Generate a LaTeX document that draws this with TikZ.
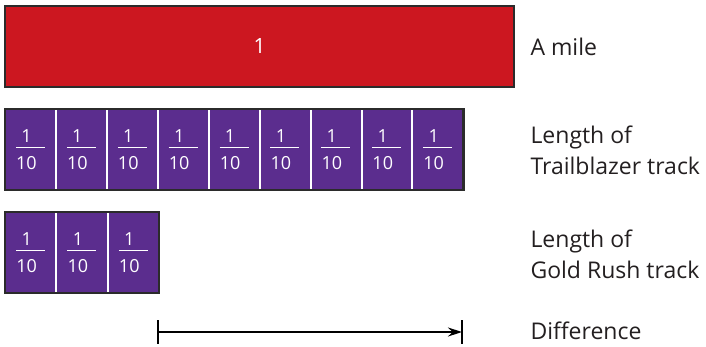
\documentclass[tikz,border=0pt]{standalone}
\usepackage{fontspec}
\setmainfont{Open Sans}
\usetikzlibrary{arrows.meta,fit}

\definecolor{mileRed}{HTML}{CC1720}
\definecolor{tenthPurple}{HTML}{5B2D8E}
\definecolor{frameGray}{HTML}{2B2B2B}
\definecolor{labelInk}{HTML}{231F20}

% one tenth, stacked as 1 over 10 with a bar; the digits sit over the left part of the bar
\newcommand{\onetenth}{\vbox{\hbox to 29pt{\hbox to 21pt{\hss 1\hss}\hss}\kern 5pt\hrule height 1.3pt\kern 8pt\hbox to 29pt{\hbox to 21pt{\hss 10\hss}\hss}}}

\tikzset{
  wholebar/.style={fill=mileRed, draw=frameGray, line width=2.5pt, inner sep=0pt,
    minimum width=509pt, minimum height=81pt, text=white, font=\fontsize{21}{21}\selectfont},
  tenthcell/.style={fill=tenthPurple, inner sep=0pt, minimum width=50.9pt,
    minimum height=81pt, text=white, font=\fontsize{18}{18}\selectfont},
  divider/.style={draw=white, line width=2pt},
  barframe/.style={draw=frameGray, line width=2.5pt, inner sep=0pt},
  caption/.style={anchor=west, align=left, text=labelInk,
    font=\fontsize{23}{31}\selectfont},
  diffline/.style={draw=black, line width=1.4pt},
}

\begin{document}
\begin{tikzpicture}[x=1pt,y=-1pt]
\useasboundingbox (0,0) rectangle (706,346);

% one whole mile
\node[wholebar] (mile) at (259.5,46.5) {1};

% Trailblazer track: nine tenths
\foreach \i in {1,...,9}{
  \node[tenthcell] (t\i) at ({5+50.9*(\i-0.5)},149.5) {\onetenth};
}
\foreach \i in {1,...,8}{
  \draw[divider] (t\i.north east) -- (t\i.south east);
}
\node[barframe, fit=(t1)(t9)] (trail) {};

% Gold Rush track: three tenths
\foreach \i in {1,...,3}{
  \node[tenthcell] (g\i) at ({5+51.3*(\i-0.5)},252.5) {\onetenth};
}
\foreach \i in {1,2}{
  \draw[divider] (g\i.north east) -- (g\i.south east);
}
\node[barframe, fit=(g1)(g3)] (gold) {};

% the difference between the two tracks
\coordinate (d0) at (158,332);
\coordinate (d1) at (462,332);
\coordinate (d0top) at (158,320);
\coordinate (d0bot) at (158,344);
\coordinate (d1top) at (462,320);
\coordinate (d1bot) at (462,344);
\draw[diffline] (d0top) -- (d0bot);
\draw[diffline] (d1top) -- (d1bot);
\draw[diffline, -{Stealth[length=14pt,width=9pt]}] (d0) -- (d1);

% captions
\node[caption] (capMile) at (527,47) {A mile};
\node[caption] (capTrail) at (527,150) {Length of\\Trailblazer track};
\node[caption] (capGold) at (527,254) {Length of\\Gold Rush track};
\node[caption] (capDiff) at (527,331) {Difference};
\end{tikzpicture}
\end{document}
